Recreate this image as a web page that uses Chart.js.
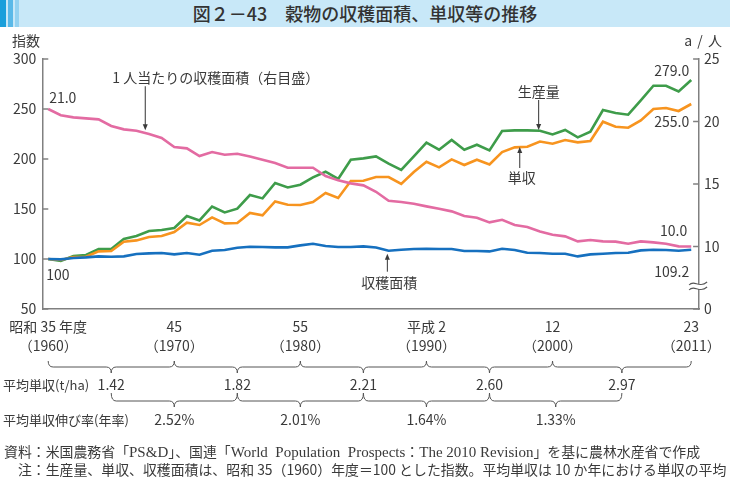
<!DOCTYPE html>
<html lang="ja">
<head>
<meta charset="utf-8">
<title>図２－43 穀物の収穫面積、単収等の推移</title>
<script src="https://cdn.jsdelivr.net/npm/chart.js@4.4.0/dist/chart.umd.min.js"></script>
<style>
  body { margin: 0; background: #fff; }
  #wrap {
    position: relative; width: 730px; height: 477px; overflow: hidden;
    font-family: "Noto Sans CJK JP", "Noto Sans", sans-serif; color: #3a3a3a;
  }
  #chart { position: absolute; left: 0; top: 0; }
  .titlebar { position: absolute; left: 0; top: 0; width: 730px; height: 27px; background: #c8e8f8; }
  .stripe { position: absolute; top: 0; height: 27px; }
  .title { position: absolute; left: 0; top: 0; width: 730px; line-height: 27px; text-align: center; font-size: 18px; font-weight: 500; color: #333; }
  .txt { position: absolute; white-space: nowrap; line-height: 1; }
  .serif { font-family: "Liberation Serif", "DejaVu Serif", serif; font-size: 15px; }
</style>
</head>
<body>
<div id="wrap">
  <canvas id="chart" width="730" height="477"></canvas>
  <div class="titlebar"></div>
  <div class="stripe" style="left:0;width:6px;background:#1a9fdb"></div>
  <div class="stripe" style="left:8px;width:5px;background:#5ab9e8"></div>
  <div class="stripe" style="left:15px;width:4px;background:#94d2f1"></div>
  <div class="title">図２－43　穀物の収穫面積、単収等の推移</div>

  <div class="txt" style="left:12px;top:33px;font-size:14px">指数</div>
  <div class="txt" style="right:8px;top:33px;font-size:14px;word-spacing:2px">a / 人</div>

  <div class="txt" style="left:3px;top:378px;font-size:13px">平均単収(t/ha)</div>
  <div class="txt" style="left:3px;top:413px;font-size:13px">平均単収伸び率(年率)</div>

  <div class="txt" style="left:4px;top:445px;font-size:13.9px">資料：米国農務省「<span class="serif">PS&amp;D</span>」、国連「<span class="serif">World&nbsp; Population&nbsp; Prospects</span>：<span class="serif">The 2010 Revision</span>」を基に農林水産省で作成</div>
  <div class="txt" style="left:4px;top:463px;font-size:13.9px">　注：生産量、単収、収穫面積は、昭和 35（1960）年度＝100 とした指数。平均単収は 10 か年における単収の平均</div>
</div>

<script>
// 年度（昭和35年度＝1960 〜 平成23年度＝2011）
const years = [1960, 1961, 1962, 1963, 1964, 1965, 1966, 1967, 1968, 1969,
  1970, 1971, 1972, 1973, 1974, 1975, 1976, 1977, 1978, 1979,
  1980, 1981, 1982, 1983, 1984, 1985, 1986, 1987, 1988, 1989,
  1990, 1991, 1992, 1993, 1994, 1995, 1996, 1997, 1998, 1999,
  2000, 2001, 2002, 2003, 2004, 2005, 2006, 2007, 2008, 2009,
  2010, 2011];

// 生産量（指数）
const production = [100, 98, 103, 104, 110, 110, 120, 123, 128, 129,
  131, 143, 138.6, 152.5, 146.6, 150.3, 164, 160.6, 176, 171.6,
  174.3, 181.6, 187.3, 180, 199.3, 200.6, 202.6, 195.3, 189, 202.6,
  216.3, 209.3, 219, 209.3, 214.3, 208.6, 228, 228.6, 228.6, 228.3,
  224.6, 229, 221.6, 227.3, 249, 246, 244.3, 258.6, 273.3, 273.3,
  267.6, 279];

// 単収（指数）
const yieldIdx = [100, 99, 102, 102.3, 107.6, 108, 117.3, 118.6, 122, 123,
  127, 136.3, 134, 141.6, 135.6, 136, 146, 143.6, 157.6, 154.3,
  154, 157, 166, 161, 178, 178.3, 182, 182, 175, 187,
  197.3, 191.6, 199.6, 194, 199.3, 194.6, 207, 211.6, 212.3, 217.5,
  215.3, 219, 216.6, 218, 237.3, 232.3, 231.3, 238.6, 250, 251,
  248, 255];

// 収穫面積（指数）
const area = [100, 99.6, 101, 101.6, 102.6, 102.3, 102.6, 105, 105.6, 106,
  104.6, 106, 104.3, 108.3, 109, 111.3, 112.3, 112, 111.6, 111.6,
  113.6, 115.3, 113, 112, 112, 112.6, 111.5, 108.3, 109.3, 110,
  110.3, 110, 110, 108, 108, 107.6, 110.3, 109, 106.3, 106,
  105.3, 105.3, 102.6, 104.6, 105.3, 106, 106.3, 108.6, 109.3, 109,
  108.3, 109.2];

// 1人当たりの収穫面積（a/人、右目盛）
const perCapita = [21.0, 20.5, 20.33, 20.25, 20.17, 19.64, 19.37, 19.26, 19.0, 18.68,
  17.96, 17.85, 17.24, 17.56, 17.34, 17.42, 17.2, 16.94, 16.68, 16.3,
  16.3, 16.3, 15.64, 15.29, 15.05, 14.89, 14.38, 13.66, 13.56, 13.42,
  13.21, 13.02, 12.81, 12.44, 12.3, 11.93, 12.14, 11.72, 11.56, 11.2,
  10.94, 10.81, 10.41, 10.52, 10.41, 10.39, 10.22, 10.41, 10.33, 10.22,
  10.01, 10.0];

// 目盛
const tickYears = [1960, 1970, 1980, 1990, 2000, 2011];
const tickEra = ['昭和 35 年度', '45', '55', '平成 2', '12', '23'];
const leftTicks = [50, 100, 150, 200, 250, 300];
const rightTicks = [5, 10, 15, 20, 25];
const rightLabels = ['0', '10', '15', '20', '25'];

// 10か年ごとの平均単収と伸び率
const decadeBounds = [1960, 1970, 1980, 1990, 2000, 2011];
const avgYield = ['1.42', '1.82', '2.21', '2.60', '2.97'];
const avgGrowth = ['2.52%', '2.01%', '1.64%', '1.33%'];

const COLORS = {
  production: '#3e9c4a',
  yield: '#f7941f',
  area: '#1670bf',
  perCapita: '#e36ba2',
  axis: '#808080',
  text: '#3a3a3a',
};
const FONT = '"Noto Sans CJK JP", "Noto Sans", sans-serif';

const toPoints = (arr) => arr.map((v, i) => ({ x: years[i], y: v }));

function drawArrow(ctx, x, yFrom, yTip) {
  const d = Math.sign(yTip - yFrom);
  ctx.beginPath();
  ctx.moveTo(x, yFrom);
  ctx.lineTo(x, yTip - d * 4);
  ctx.stroke();
  ctx.beginPath();
  ctx.moveTo(x, yTip);
  ctx.lineTo(x - 2.5, yTip - d * 6);
  ctx.lineTo(x + 2.5, yTip - d * 6);
  ctx.closePath();
  ctx.fill();
}

function drawBrace(ctx, x1, x2, yTop, yLine, yTip) {
  const xm = (x1 + x2) / 2;
  const r = 5;
  ctx.beginPath();
  ctx.moveTo(x1, yTop);
  ctx.quadraticCurveTo(x1, yLine, x1 + r, yLine);
  ctx.lineTo(xm - r, yLine);
  ctx.quadraticCurveTo(xm, yLine, xm, yTip);
  ctx.quadraticCurveTo(xm, yLine, xm + r, yLine);
  ctx.lineTo(x2 - r, yLine);
  ctx.quadraticCurveTo(x2, yLine, x2, yTop);
  ctx.stroke();
}

const overlay = {
  id: 'overlay',
  afterDraw(chart) {
    const { ctx, chartArea } = chart;
    const sx = chart.scales.x;
    const sy = chart.scales.y;
    const sy2 = chart.scales.y2;
    ctx.save();

    // 内向きの目盛線
    ctx.strokeStyle = COLORS.axis;
    ctx.lineWidth = 1.5;
    leftTicks.forEach((v) => {
      const py = sy.getPixelForValue(v);
      ctx.beginPath();
      ctx.moveTo(chartArea.left, py);
      ctx.lineTo(chartArea.left + 6, py);
      ctx.stroke();
    });
    rightTicks.forEach((v) => {
      const py = sy2.getPixelForValue(v);
      ctx.beginPath();
      ctx.moveTo(chartArea.right - 6, py);
      ctx.lineTo(chartArea.right, py);
      ctx.stroke();
    });

    // 右軸の省略記号
    const by = sy2.getPixelForValue(6.8);
    const bx = chartArea.right;
    ctx.fillStyle = '#fff';
    ctx.fillRect(bx - 4, by - 2.5, 8, 5);
    ctx.strokeStyle = '#555';
    ctx.lineWidth = 1.1;
    [-2.5, 2.5].forEach((o) => {
      ctx.beginPath();
      ctx.moveTo(bx - 10, by + o + 1);
      ctx.bezierCurveTo(bx - 5, by + o - 5, bx, by + o + 5, bx + 8, by + o - 2);
      ctx.stroke();
    });

    ctx.fillStyle = COLORS.text;
    ctx.strokeStyle = '#333';
    ctx.lineWidth = 1;
    ctx.font = `14px ${FONT}`;
    ctx.textBaseline = 'middle';

    // 系列名と矢印
    let tx = sx.getPixelForValue(1967.7);
    let ty = sy2.getPixelForValue(19.3);
    drawArrow(ctx, tx, ty - 44, ty);
    ctx.textAlign = 'left';
    ctx.fillText('1 人当たりの収穫面積（右目盛）', tx - 33, ty - 53);

    tx = sx.getPixelForValue(1998.9);
    ty = sy.getPixelForValue(229);
    drawArrow(ctx, tx, ty - 30, ty);
    ctx.textAlign = 'center';
    ctx.fillText('生産量', tx, ty - 38);

    tx = sx.getPixelForValue(1997.4);
    ty = sy.getPixelForValue(212);
    drawArrow(ctx, tx, ty + 21, ty);
    ctx.fillText('単収', tx + 2, ty + 31);

    tx = sx.getPixelForValue(1986.9);
    ty = sy.getPixelForValue(105.3);
    drawArrow(ctx, tx, ty + 18, ty);
    ctx.fillText('収穫面積', tx + 2, ty + 29);

    // 始点・終点の数値
    const first = sx.getPixelForValue(years[0]);
    const last = sx.getPixelForValue(years[years.length - 1]);
    const n = years.length - 1;
    ctx.textAlign = 'left';
    ctx.fillText(perCapita[0].toFixed(1), first + 1, sy2.getPixelForValue(perCapita[0]) - 11);
    ctx.fillText(String(production[0]), first - 2, sy.getPixelForValue(production[0]) + 16);
    ctx.textAlign = 'right';
    ctx.fillText(production[n].toFixed(1), last - 2, sy.getPixelForValue(production[n]) - 9);
    ctx.fillText(yieldIdx[n].toFixed(1), last - 2, sy.getPixelForValue(yieldIdx[n]) + 18);
    ctx.fillText(perCapita[n].toFixed(1), last - 4, sy2.getPixelForValue(perCapita[n]) - 16);
    ctx.fillText(area[n].toFixed(1), last - 2, sy.getPixelForValue(area[n]) + 22);

    // 10か年の括弧と平均単収・伸び率
    ctx.strokeStyle = '#555';
    ctx.lineWidth = 1;
    ctx.textAlign = 'center';
    const mids = [];
    for (let i = 0; i < decadeBounds.length - 1; i++) {
      const a = sx.getPixelForValue(decadeBounds[i]);
      const b = sx.getPixelForValue(decadeBounds[i + 1]);
      drawBrace(ctx, a, b, 361, 367, 373);
      mids.push((a + b) / 2);
      ctx.fillText(avgYield[i], (a + b) / 2, 385);
    }
    for (let i = 0; i < mids.length - 1; i++) {
      drawBrace(ctx, mids[i], mids[i + 1], 393, 401, 407);
      ctx.fillText(avgGrowth[i], (mids[i] + mids[i + 1]) / 2, 420);
    }
    ctx.restore();
  },
};

const lineStyle = (color) => ({
  borderColor: color,
  backgroundColor: color,
  borderWidth: 2.6,
  pointRadius: 0,
  tension: 0,
  fill: false,
});

const ctx = document.getElementById('chart').getContext('2d');
const chart = new Chart(ctx, {
  type: 'line',
  data: {
    datasets: [
      { label: '1人当たりの収穫面積', data: toPoints(perCapita), yAxisID: 'y2', ...lineStyle(COLORS.perCapita) },
      { label: '収穫面積', data: toPoints(area), yAxisID: 'y', ...lineStyle(COLORS.area) },
      { label: '単収', data: toPoints(yieldIdx), yAxisID: 'y', ...lineStyle(COLORS.yield) },
      { label: '生産量', data: toPoints(production), yAxisID: 'y', ...lineStyle(COLORS.production) },
    ],
  },
  options: {
    responsive: false,
    animation: false,
    devicePixelRatio: 1,
    layout: { padding: { top: 59, bottom: 118, left: 0, right: 0 } },
    plugins: { legend: { display: false }, tooltip: { enabled: false } },
    scales: {
      x: {
        type: 'linear',
        min: 1959.533,
        max: 2011.623,
        grid: { display: false, drawTicks: false },
        border: { display: true, color: COLORS.axis, width: 1.5 },
        afterBuildTicks: (s) => { s.ticks = tickYears.map((v) => ({ value: v })); },
        afterFit: (s) => { s.height = 50; },
        ticks: {
          autoSkip: false,
          maxRotation: 0,
          padding: 9,
          color: COLORS.text,
          font: { family: FONT, size: 14, lineHeight: 1.3 },
          callback: (v) => {
            const k = tickYears.indexOf(v);
            return k < 0 ? '' : [tickEra[k], `（${v}）`];
          },
        },
      },
      y: {
        position: 'left',
        min: 50,
        max: 300,
        grid: { display: false, drawTicks: false },
        border: { display: true, color: COLORS.axis, width: 1.5 },
        afterBuildTicks: (s) => { s.ticks = leftTicks.map((v) => ({ value: v })); },
        afterFit: (s) => { s.width = 36; },
        ticks: { padding: 6, color: COLORS.text, font: { family: FONT, size: 14 } },
      },
      y2: {
        position: 'right',
        min: 5,
        max: 25,
        grid: { display: false, drawTicks: false },
        border: { display: true, color: COLORS.axis, width: 1.5 },
        afterBuildTicks: (s) => { s.ticks = rightTicks.map((v) => ({ value: v })); },
        afterFit: (s) => { s.width = 25; },
        ticks: {
          padding: 5,
          color: COLORS.text,
          font: { family: FONT, size: 14 },
          callback: (v) => rightLabels[rightTicks.indexOf(v)],
        },
      },
    },
  },
  plugins: [overlay],
});
</script>
</body>
</html>
